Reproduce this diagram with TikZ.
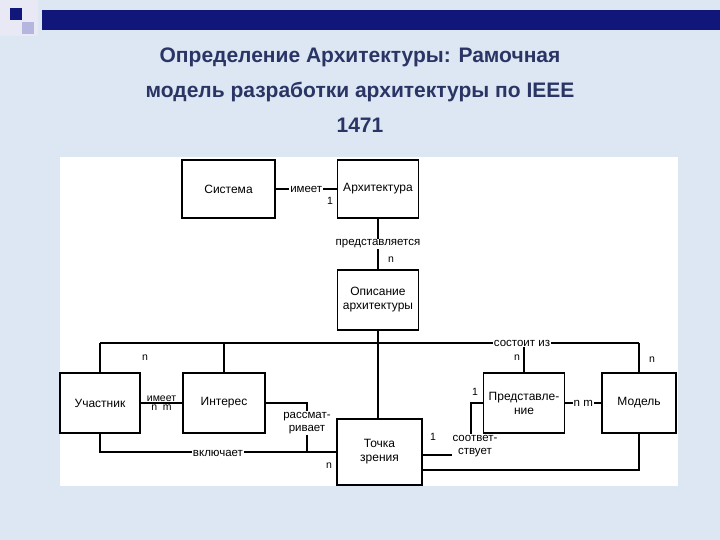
\documentclass[tikz,border=0pt]{standalone}
\usepackage{fontspec}
\setmainfont{Liberation Sans}
\usetikzlibrary{positioning}
\definecolor{slidebg}{HTML}{DCE7F3}
\definecolor{titleblue}{HTML}{2A3565}
\definecolor{darkblue}{HTML}{10167A}
\definecolor{lavender}{HTML}{B4B6E0}

\begin{document}
\begin{tikzpicture}[x=1pt, y=-1pt,
        box/.style = {draw, line width=1.3pt, minimum width=81pt, minimum height=60pt, align=center, font=\fontsize{12}{14}\selectfont},
        lbl/.style = {fill=white, inner sep=1pt, align=center, font=\fontsize{11.5}{12.5}\selectfont},
        mult/.style = {inner sep=1pt, font=\fontsize{10.5}{11}\selectfont},
        conn/.style = {line width=1.3pt},
        ]
        \useasboundingbox (0,0) rectangle (720,540);
        \fill[slidebg] (0,0) rectangle (720,540);
        % slide decoration
        \fill[white!70!lavender] (0,0) rectangle (38,36);
        \fill[darkblue] (10,8) rectangle (22,20);
        \fill[lavender] (22,22) rectangle (34,34);
        \fill[darkblue] (42,10) rectangle (720,30);
        % title
        \node[text=titleblue, font=\bfseries\fontsize{21}{35}\selectfont, align=center] (title) at (360,90)
            {Определение Архитектуры: Рамочная\\модель разработки архитектуры по IEEE\\1471};
        \fill[white] (60,157) rectangle (678,486);

        \node [box, minimum width=93pt, minimum height=58pt] (sys) at (228.5,189) {Система};
        \node [box, minimum height=58pt] (arch) at (378,189) {Архитектура};
        \node [box] (desc) at (378,300) {Описание\\архитектуры};
        \node [box, minimum width=80pt] (part) at (100,403) {Участник};
        \node [box, minimum width=82pt] (conc) at (224,403) {Интерес};
        \node [box, minimum width=85pt, minimum height=66pt] (vp) at (379.5,452) {Точка\\зрения};
        \node [box] (view) at (524,403) {Представле-\\ние};
        \node [box, minimum width=74pt] (model) at (639,403) {Модель};

        \coordinate (busL) at (100,343);
        \coordinate (busR) at (639,343);
        \coordinate (rv) at (307,453);
        \coordinate (corr) at (471,455);
        \coordinate (low) at (422,470);

        \draw [conn] (sys) -- node[lbl] {имеет} (arch);
        \draw [conn] (arch) -- node[lbl] {представляется} (desc);
        \draw [conn] (busL) -- (busR);
        \draw [conn] (desc) -- (desc |- vp.north);
        \draw [conn] (busL) -- (part);
        \draw [conn] (conc.north |- busL) -- (conc);
        \draw [conn] (view.north |- busL) -- (view);
        \draw [conn] (busR) -- (model);
        \draw [conn] (part) -- node[mult, above] {имеет} node[mult, below] {n\ \ m} (conc);
        \draw [conn] (conc) -| (rv);
        \draw [conn] (part) |- (vp);
        \draw [conn] (vp.east |- corr) -- (corr) |- (view);
        \draw [conn] (view) -- node[lbl] {n m} (model);
        \draw [conn] (low) -| (model);

        \node [lbl] (hasparts) at (522,343) {состоит из};
        \node [lbl] (sees) at (307,423) {рассмат-\\ривает};
        \node [lbl] (incl) at (218,453) {включает};
        \node [lbl] (fits) at (475,446) {соответ-\\ствует};

        \node [mult] (m1) at (330,201) {1};
        \node [mult] (m2) at (391,260) {n};
        \node [mult] (m3) at (145,358) {n};
        \node [mult] (m4) at (517,358) {n};
        \node [mult] (m5) at (652,360) {n};
        \node [mult] (m6) at (475,392) {1};
        \node [mult] (m7) at (433,437) {1};
        \node [mult] (m8) at (329,466) {n};
\end{tikzpicture}
\end{document}
